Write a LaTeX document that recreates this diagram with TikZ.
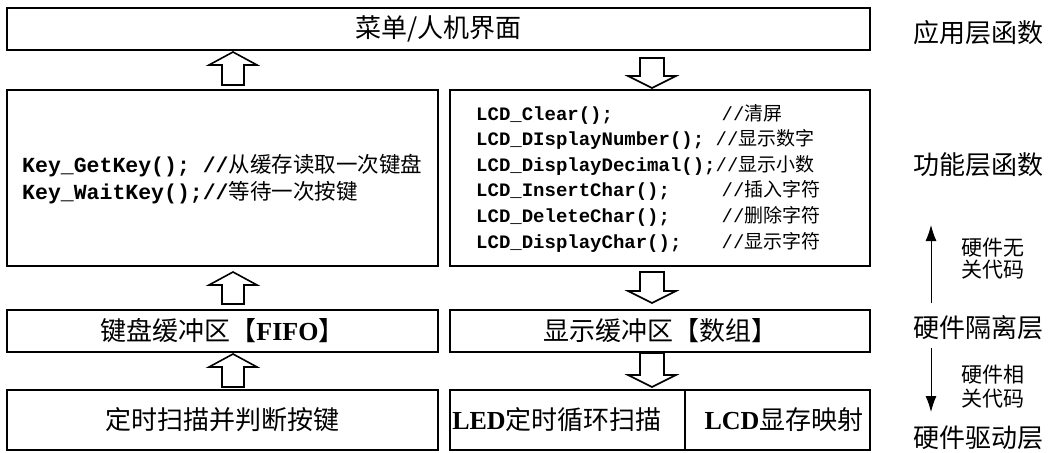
\documentclass[tikz,border=0pt]{standalone}
\usepackage{fontspec}
\setmainfont{Liberation Serif}
\setmonofont{Liberation Mono}
\newfontfamily\cjk{Noto Sans CJK SC}
\usetikzlibrary{calc,arrows.meta}
\tikzset{
  box/.style={draw, line width=2.2pt, inner sep=0pt, outer sep=0pt, anchor=north west},
  big/.style={font=\cjk\fontsize{26}{30}\selectfont},
  blk/.style={draw, line width=1.6pt, fill=white, line join=miter},
  side/.style={font=\cjk\fontsize{26}{30}\selectfont},
  small/.style={font=\cjk\fontsize{21}{22}\selectfont, align=center},
  thinarr/.style={line width=1pt, -{Latex[length=16pt,width=11pt]}}
}
\newcommand\UpBlk[5]{%
 \draw[blk] ($(#1.north -| #3)+(-11,-#4)$) -- ($(#2.south -| #3)+(-11,#5+13)$) -- ($(#2.south -| #3)+(-24,#5+13)$) -- ($(#2.south -| #3)+(0,#5)$) -- ($(#2.south -| #3)+(24,#5+13)$) -- ($(#2.south -| #3)+(11,#5+13)$) -- ($(#1.north -| #3)+(11,-#4)$) -- cycle;}
\newcommand\DownBlk[5]{%
 \draw[blk] ($(#1.south -| #3)+(-12,#4)$) -- ($(#2.north -| #3)+(-12,-#5-12)$) -- ($(#2.north -| #3)+(-24,-#5-12)$) -- ($(#2.north -| #3)+(0,-#5)$) -- ($(#2.north -| #3)+(24,-#5-12)$) -- ($(#2.north -| #3)+(12,-#5-12)$) -- ($(#1.south -| #3)+(12,#4)$) -- cycle;}
\begin{document}
\begin{tikzpicture}[x=1pt,y=-1pt]
\useasboundingbox (0,0) rectangle (1051,452);
% boxes
\node[box, big, minimum width=863pt, minimum height=42pt] (top) at (7,8) {菜单/人机界面};
\node[box, minimum width=431pt, minimum height=176pt] (kbf) at (7,90) {};
\node[box, minimum width=420pt, minimum height=176pt] (lcdf) at (450,90) {};
\node[box, big, minimum width=431pt, minimum height=42pt] (kbuf) at (7,310) {键盘缓冲区【{\rmfamily\bfseries FIFO}】};
\node[box, big, minimum width=420pt, minimum height=42pt] (dbuf) at (450,310) {显示缓冲区【数组】};
\node[box, big, minimum width=431pt, minimum height=60pt] (scan) at (7,390) {定时扫描并判断按键};
\node[box, minimum width=235pt, minimum height=60pt] (led) at (450,390) {};
\node[box, minimum width=185pt, minimum height=60pt] (lcdm) at (685,390) {};
\node[big] (ledtxt) at (557,420) {{\rmfamily\bfseries LED}定时循环扫描};
\node[big] (lcdtxt) at (784,420) {{\rmfamily\bfseries LCD}显存映射};
% key functions
\node[anchor=west, align=left, inner sep=0pt, font=\fontsize{21.5}{27}\selectfont] (keytxt) at (22,179.5)
 {{\ttfamily\bfseries Key\_GetKey(); //}{\cjk 从缓存读取一次键盘}\\
  {\ttfamily\bfseries Key\_WaitKey();//}{\cjk 等待一次按键}};
% lcd functions
\node[anchor=west, inner sep=0pt, font=\fontsize{19}{25.6}\selectfont] (lcdtxt2) at (476,179)
 {\begin{tabular}{@{}l@{}l@{}}
  \ttfamily\bfseries LCD\_Clear(); & \hspace{6pt}{\ttfamily //}{\cjk 清屏}\\
  \ttfamily\bfseries LCD\_DIsplayNumber(); & {\ttfamily //}{\cjk 显示数字}\\
  \ttfamily\bfseries LCD\_DisplayDecimal(); & {\ttfamily //}{\cjk 显示小数}\\
  \ttfamily\bfseries LCD\_InsertChar(); & \hspace{6pt}{\ttfamily //}{\cjk 插入字符}\\
  \ttfamily\bfseries LCD\_DeleteChar(); & \hspace{6pt}{\ttfamily //}{\cjk 删除字符}\\
  \ttfamily\bfseries LCD\_DisplayChar(); & \hspace{6pt}{\ttfamily //}{\cjk 显示字符}
 \end{tabular}};
% block arrows
\coordinate (axl) at (233,0);
\coordinate (axr) at (652,0);
\UpBlk{kbf}{top}{axl}{5}{2}
\UpBlk{kbuf}{kbf}{axl}{6}{6}
\UpBlk{scan}{kbuf}{axl}{3}{2}
\DownBlk{top}{lcdf}{axr}{8}{2}
\DownBlk{lcdf}{dbuf}{axr}{6}{7}
\DownBlk{dbuf}{led}{axr}{1}{3}
% side labels
\node[side] (app) at (978,33) {应用层函数};
\node[side] (func) at (978,165) {功能层函数};
\node[side] (iso) at (978,328) {硬件隔离层};
\node[side] (drv) at (978,438) {硬件驱动层};
\node[small] (hwfree) at (993,259) {硬件无\\关代码};
\node[small, font=\cjk\fontsize{21}{24}\selectfont] (hwdep) at (993,387) {硬件相\\关代码};
\coordinate (ua1) at (931,303);
\coordinate (ua2) at (931,225);
\coordinate (da1) at (931,348);
\coordinate (da2) at (931,412);
\draw[thinarr] (ua1) -- (ua2);
\draw[thinarr] (da1) -- (da2);
\end{tikzpicture}
\end{document}
